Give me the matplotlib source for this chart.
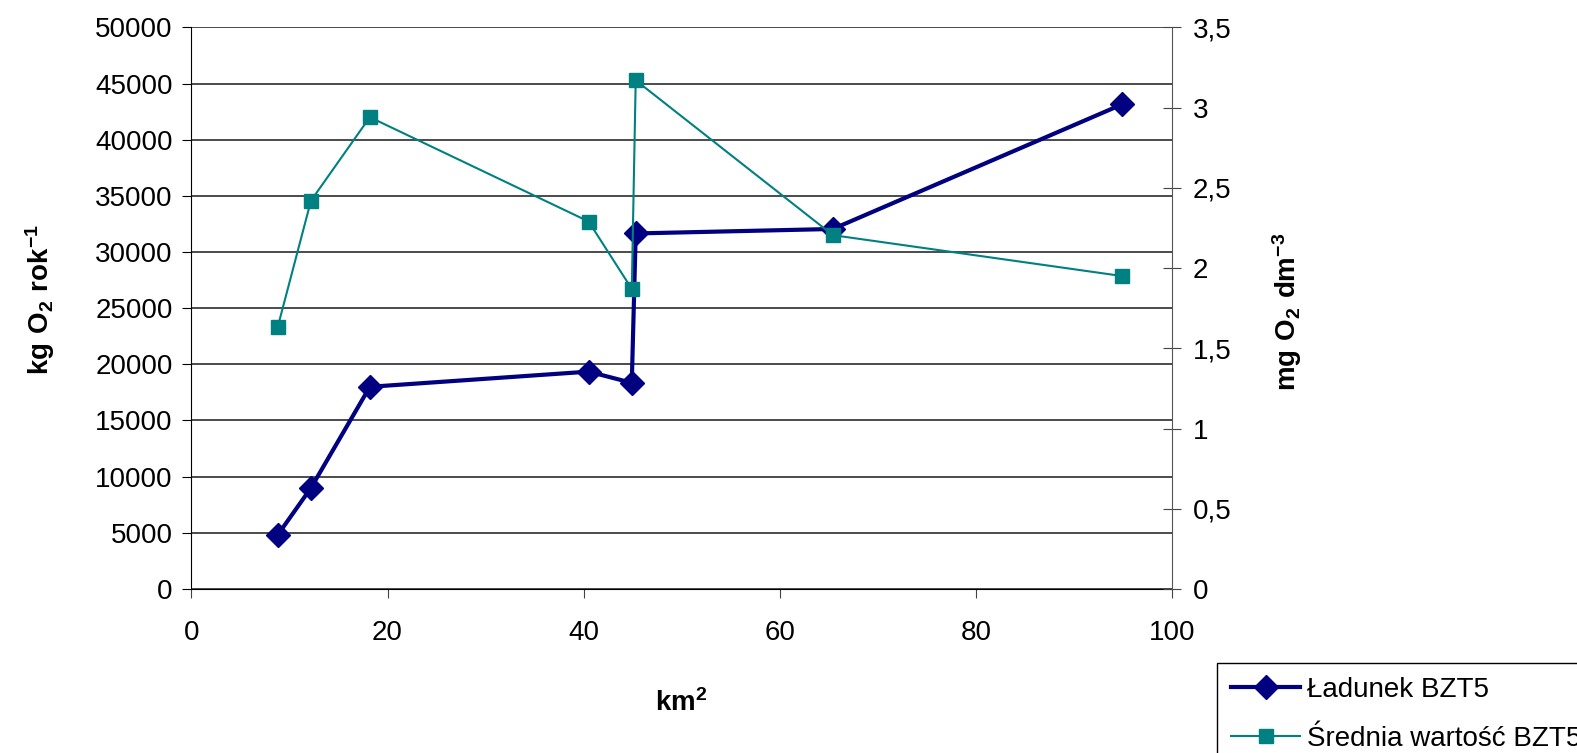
import numpy as np
import matplotlib.pyplot as plt

plt.rcParams['font.family'] = ['Liberation Sans', 'DejaVu Sans']
plt.rcParams['mathtext.fontset'] = 'custom'
plt.rcParams['mathtext.rm'] = 'Liberation Sans'
plt.rcParams['mathtext.bf'] = 'Liberation Sans:bold'

# powierzchnia zlewni, km2
area = [8.8, 12.2, 18.2, 40.5, 44.9, 45.3, 65.4, 94.9]
# ladunek BZT5, kg O2/rok
load = [4800, 9000, 18000, 19350, 18350, 31650, 32050, 43150]
# srednia wartosc BZT5, mg O2/dm3
mean_bzt = [1.63, 2.42, 2.94, 2.29, 1.87, 3.17, 2.205, 1.95]

left_ticks = np.arange(0, 50001, 5000)
right_ticks = np.arange(0, 3.51, 0.5)
right_labels = ['0', '0,5', '1', '1,5', '2', '2,5', '3', '3,5']
x_ticks = [0, 20, 40, 60, 80, 100]

fs = 20

fig = plt.figure(figsize=(15.77, 7.53), dpi=100)
ax = fig.add_axes([0.1213, 0.2178, 0.6221, 0.7459])
ax2 = ax.twinx()

l1, = ax.plot(area, load, color='#000080', lw=3, marker='D', ms=12,
              label='Ładunek BZT5', zorder=3)
l2, = ax2.plot(area, mean_bzt, color='#008080', lw=1.5, marker='s', ms=9.5,
               label='Średnia wartość BZT5', zorder=3)

ax.set_xlim(0, 100)
ax.set_ylim(0, 50000)
ax2.set_ylim(0, 3.5)
ax.set_xticks(x_ticks)
ax.set_yticks(left_ticks)
ax2.set_yticks(right_ticks)
ax2.set_yticklabels(right_labels)

ax.yaxis.grid(True, color='#1a1a1a', lw=1.1)
ax.set_axisbelow(True)

for a in (ax, ax2):
    a.spines['top'].set_visible(False)
ax.spines['right'].set_visible(False)
ax2.spines['left'].set_visible(False)
ax2.spines['bottom'].set_visible(False)
ax2.spines['right'].set_color('#555555')

ax.tick_params(axis='y', direction='out', length=6.5, pad=7, labelsize=fs)
ax.tick_params(axis='x', direction='out', length=6.5, pad=16, labelsize=fs,
               color='#444444')
ax2.tick_params(axis='y', direction='inout', length=13, pad=8, labelsize=fs,
                color='#444444')

fig.text(40 / 1577, 1 - 300 / 753, r'$\mathbf{kg\ O_2\ rok^{-1}}$',
         rotation=90, ha='center', va='center', fontsize=fs)
fig.text(1287 / 1577, 1 - 312 / 753, r'$\mathbf{mg\ O_2\ dm^{-3}}$',
         rotation=90, ha='center', va='center', fontsize=fs)
fig.text(681 / 1577, 1 - 703 / 753, r'$\mathbf{km^2}$',
         ha='center', va='center', fontsize=fs)

leg = fig.legend(handles=[l1, l2], loc='upper left',
                 bbox_to_anchor=(1217 / 1577, 1 - 663 / 753),
                 fontsize=fs, frameon=True, fancybox=False, framealpha=1,
                 edgecolor='black', handlelength=2.5, handletextpad=0.25,
                 borderpad=0.5, labelspacing=0.82, borderaxespad=0)
leg.get_frame().set_linewidth(1)

fig.savefig('out.png', dpi=100)
